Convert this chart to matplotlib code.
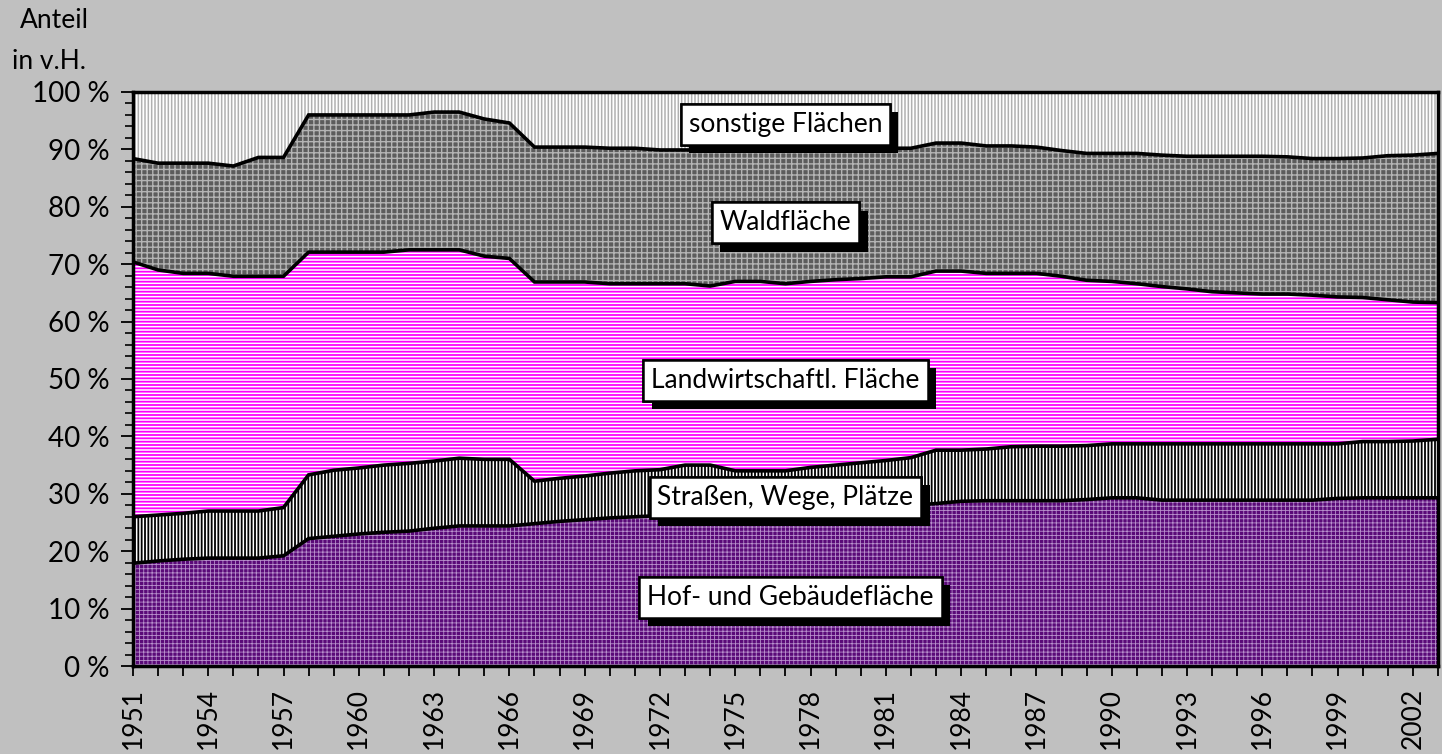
import matplotlib
matplotlib.use('Agg')
import matplotlib.pyplot as plt
import matplotlib.patheffects as pe
import numpy as np

# Anteile der Flächennutzung in v.H., 1951 - 2003
jahre = list(range(1951, 2004))

hof = [17.9, 18.3, 18.6, 18.8, 18.8, 18.8, 19.2, 22.2, 22.6, 23.0,
       23.3, 23.5, 24.0, 24.4, 24.4, 24.4, 24.8, 25.2, 25.5, 25.8,
       26.0, 26.2, 26.5, 26.7, 26.9, 27.1, 27.3, 27.5, 27.7, 27.8,
       27.9, 28.0, 28.3, 28.7, 28.8, 28.8, 28.8, 28.8, 29.0, 29.3,
       29.3, 28.9, 28.9, 28.9, 28.9, 28.9, 28.9, 28.9, 29.2, 29.3,
       29.3, 29.3, 29.3]
strassen = [8.1, 8.0, 8.0, 8.2, 8.2, 8.2, 8.4, 11.1, 11.5, 11.5,
            11.7, 11.8, 11.7, 11.8, 11.6, 11.6, 7.4, 7.5, 7.6, 7.8,
            8.0, 8.0, 8.5, 8.3, 7.1, 6.9, 6.7, 7.1, 7.3, 7.6,
            7.9, 8.3, 9.3, 8.9, 9.0, 9.4, 9.5, 9.5, 9.4, 9.4,
            9.4, 9.8, 9.8, 9.8, 9.8, 9.8, 9.8, 9.8, 9.5, 9.8,
            9.8, 9.9, 10.2]
landwirtschaft = [44.4, 42.7, 41.8, 41.4, 40.9, 40.9, 40.3, 38.8, 38.0, 37.6,
                  37.1, 37.2, 36.8, 36.3, 35.4, 35.0, 34.7, 34.2, 33.8, 33.0,
                  32.6, 32.4, 31.6, 31.2, 33.0, 33.0, 32.6, 32.4, 32.3, 32.1,
                  32.0, 31.5, 31.2, 31.2, 30.6, 30.2, 30.1, 29.6, 28.8, 28.3,
                  27.9, 27.4, 27.0, 26.5, 26.3, 26.1, 26.1, 25.9, 25.6, 25.1,
                  24.7, 24.2, 23.8]
wald = [18.0, 18.6, 19.2, 19.2, 19.2, 20.7, 20.7, 23.9, 23.9, 23.9,
        23.9, 23.5, 24.0, 24.0, 23.9, 23.6, 23.5, 23.5, 23.5, 23.6,
        23.6, 23.3, 23.3, 23.7, 22.9, 22.9, 23.3, 22.9, 22.6, 22.4,
        22.4, 22.4, 22.3, 22.3, 22.2, 22.2, 22.0, 21.9, 22.1, 22.3,
        22.7, 22.9, 23.1, 23.6, 23.8, 24.0, 23.9, 23.8, 24.1, 24.3,
        25.1, 25.6, 26.0]
sonstige = [11.6, 12.4, 12.4, 12.4, 12.9, 11.4, 11.4, 4.0, 4.0, 4.0,
            4.0, 4.0, 3.5, 3.5, 4.7, 5.4, 9.6, 9.6, 9.6, 9.8,
            9.8, 10.1, 10.1, 10.1, 10.1, 10.1, 10.1, 10.1, 10.1, 10.1,
            9.8, 9.8, 8.9, 8.9, 9.4, 9.4, 9.6, 10.2, 10.7, 10.7,
            10.7, 11.0, 11.2, 11.2, 11.2, 11.2, 11.3, 11.6, 11.6, 11.5,
            11.1, 11.0, 10.7]

namen = ['Hof- und Gebäudefläche', 'Straßen, Wege, Plätze',
         'Landwirtschaftl. Fläche', 'Waldfläche', 'sonstige Flächen']
# label positions (year, percent)
label_x = [1977.2, 1977.0, 1977.0, 1977.0, 1977.0]
label_y = [12.0, 29.4, 49.8, 77.2, 94.4]

# fill style: (background, hatch colour, hatch, hatch linewidth)
stile = [('#5a0a78', '#b890cc', '++++', 0.6),
         ('white', 'black', '|||||', 1.3),
         ('white', '#ff00ff', '-----', 1.3),
         ('#5c5c5c', '#b4b4b4', '+++', 1.0),
         ('white', '#b0b0b0', '|||||', 1.1)]

plt.rcParams['font.family'] = ['Lato', 'DejaVu Sans']

fig = plt.figure(figsize=(14.42, 7.54), dpi=100, facecolor='#c0c0c0')
ax = fig.add_axes([0.0922, 0.1167, 0.9050, 0.7613])

serien = np.array([hof, strassen, landwirtschaft, wald, sonstige])
oben = np.cumsum(serien, axis=0)
unten = np.vstack([np.zeros(len(jahre)), oben[:-1]])

for i in range(len(serien)):
    bg, hc, h, hlw = stile[i]
    ax.fill_between(jahre, unten[i], oben[i], facecolor=bg, edgecolor='none',
                    linewidth=0)
    with plt.rc_context({'hatch.linewidth': hlw}):
        coll = ax.fill_between(jahre, unten[i], oben[i], facecolor='none',
                               edgecolor=hc, hatch=h, linewidth=0)
    if hasattr(coll, 'set_hatch_linewidth'):
        coll.set_hatch_linewidth(hlw)

for i in range(len(serien) - 1):
    ax.plot(jahre, oben[i], color='black', linewidth=2.6, solid_joinstyle='miter')

for i, name in enumerate(namen):
    t = ax.text(label_x[i], label_y[i], name, fontsize=19, ha='center', va='center',
                bbox=dict(boxstyle='square,pad=0.3', facecolor='white',
                          edgecolor='black', linewidth=1.8))
    t.get_bbox_patch().set_path_effects([
        pe.withSimplePatchShadow(offset=(6, -6), shadow_rgbFace='black', alpha=1.0),
        pe.Normal()])

ax.set_xlim(1951, 2003)
ax.set_ylim(0, 100)

ax.set_xticks(jahre)
ax.set_xticklabels([str(j) if (j - 1951) % 3 == 0 else '' for j in jahre],
                   rotation=90, fontsize=19)
ax.set_yticks(range(0, 101, 10))
ax.set_yticklabels(['%d %%' % v for v in range(0, 101, 10)], fontsize=20)
ax.set_yticks(range(0, 101, 2), minor=True)
ax.tick_params(axis='both', direction='out', width=1.3, color='black')
ax.tick_params(axis='x', length=7, pad=9)
ax.tick_params(axis='y', which='major', length=9, pad=8)
ax.tick_params(axis='y', which='minor', length=6, width=1.2)

for s in ax.spines.values():
    s.set_linewidth(2.5)

fig.text(0.014, 0.99, 'Anteil', fontsize=19, ha='left', va='top')
fig.text(0.008, 0.935, 'in v.H.', fontsize=19, ha='left', va='top')

fig.savefig('out.png', dpi=100, facecolor=fig.get_facecolor())
